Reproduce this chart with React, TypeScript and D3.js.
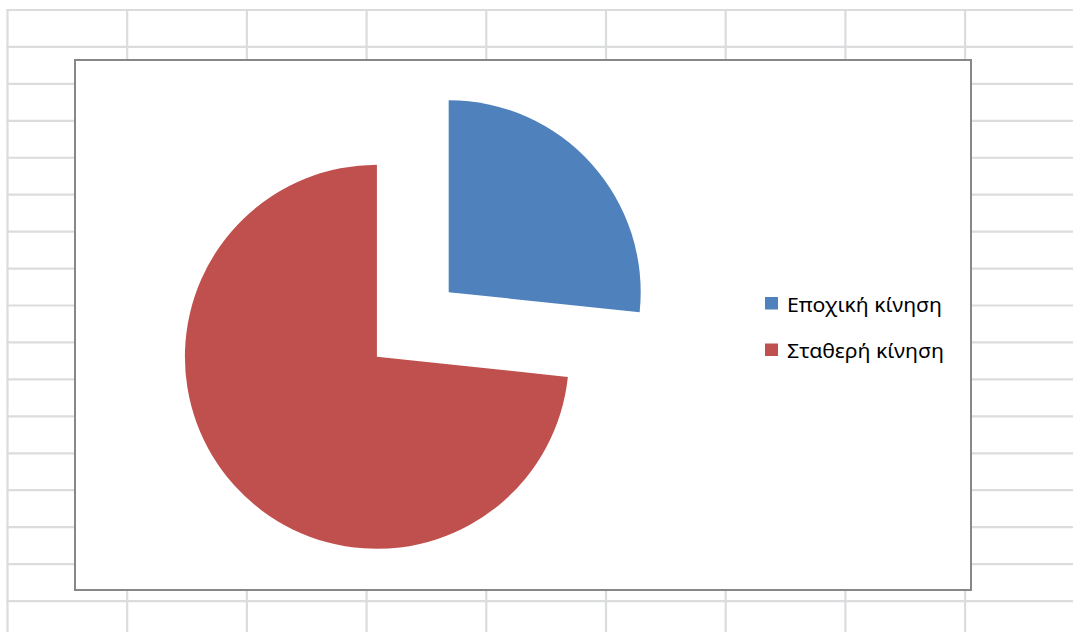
import React from "react";
import * as d3 from "d3";

const categories = ["Εποχική κίνηση", "Σταθερή κίνηση"];
const values = [4, 11];
const colors = ["#4f81bd", "#c0504d"];

const W = 1073;
const H = 632;

export default function App() {
  const pie = d3.pie<number>().sort(null).startAngle(0).endAngle(2 * Math.PI);
  const arcs = pie(values);
  const R = 192;
  const explode = 48.3;
  const cx = 412.8;
  const cy = 324.5;
  const arcGen = d3.arc<d3.PieArcDatum<number>>().innerRadius(0).outerRadius(R);

  const colX = d3.range(9).map((i) => 7.5 + i * 119.7);
  const rowY = d3.range(17).map((i) => 10 + i * 36.94);

  return (
    <svg
      width={W}
      height={H}
      style={{ position: "absolute", left: 0, top: 0, display: "block", background: "#fff" }}
    >
      {/* spreadsheet grid */}
      <g stroke="#dadcdd" strokeWidth={2.2}>
        {colX.map((x, i) => (
          <line key={"v" + i} x1={x} x2={x} y1={9} y2={H} />
        ))}
        {rowY.map((y, i) => (
          <line key={"h" + i} x1={6.5} x2={W} y1={y} y2={y} />
        ))}
      </g>
      {/* chart area */}
      <rect x={75} y={60} width={896} height={530} fill="#fff" stroke="#878787" strokeWidth={2} />
      <g>
        {arcs.map((a, i) => {
          const mid = (a.startAngle + a.endAngle) / 2;
          const dx = Math.sin(mid) * explode;
          const dy = -Math.cos(mid) * explode;
          return (
            <path
              key={i}
              d={arcGen(a) || ""}
              transform={`translate(${cx + dx},${cy + dy})`}
              fill={colors[i]}
            />
          );
        })}
      </g>
      {/* legend */}
      <g fontFamily="'Noto Sans', 'Open Sans', sans-serif" fontSize={20} fill="#000">
        {categories.map((c, i) => (
          <g key={c} transform={`translate(765,${297 + i * 46.5})`}>
            <rect x={0} y={0} width={13} height={12.5} fill={colors[i]} />
            <text x={22} y={14.6} textLength={i === 0 ? 155 : 157} lengthAdjust="spacingAndGlyphs">
              {c}
            </text>
          </g>
        ))}
      </g>
    </svg>
  );
}
